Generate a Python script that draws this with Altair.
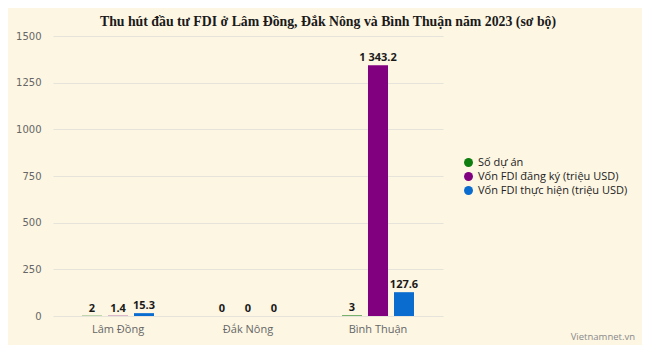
import altair as alt
import pandas as pd

regions = ["Lâm Đồng", "Đắk Nông", "Bình Thuận"]
series = ["Số dự án", "Vốn FDI đăng ký (triệu USD)", "Vốn FDI thực hiện (triệu USD)"]
so_du_an = [2, 0, 3]
von_dang_ky = [1.4, 0, 1343.2]
von_thuc_hien = [15.3, 0, 127.6]
colors = ["#0f7d0f", "#800080", "#0a6ccf"]
y_ticks = [0, 250, 500, 750, 1000, 1250, 1500]


def fmt(v):
    return "{:,}".format(v).replace(",", " ")


rows = []
for s, vals in zip(series, [so_du_an, von_dang_ky, von_thuc_hien]):
    for r, v in zip(regions, vals):
        rows.append({"region": r, "series": s, "value": v, "label": fmt(v)})
df = pd.DataFrame(rows)

x_enc = alt.X("region:N", sort=regions, title=None,
              scale=alt.Scale(paddingInner=0.046, paddingOuter=0.023),
              axis=alt.Axis(labelAngle=0, ticks=False, domain=False, labelPadding=7,
                            labelColor="#666666", labelFontSize=11, labelFont="Open Sans"))
xo_enc = alt.XOffset("series:N", sort=series,
                     scale=alt.Scale(paddingInner=0.23, paddingOuter=1))
y_enc = alt.Y("value:Q", title=None,
              scale=alt.Scale(domain=[0, 1500], nice=False),
              axis=alt.Axis(values=y_ticks, format="d", ticks=False, domain=False,
                            labelPadding=12, gridColor="#e6e3da", labelColor="#666666",
                            labelFontSize=10, labelFont="DejaVu Sans"))

bars = alt.Chart(df).mark_bar().encode(
    x=x_enc, xOffset=xo_enc, y=y_enc,
    color=alt.Color("series:N", sort=series,
                    scale=alt.Scale(domain=series, range=colors),
                    legend=alt.Legend(title=None, orient="none", legendX=410, legendY=121,
                                      symbolType="circle", symbolSize=80,
                                      symbolStrokeWidth=0, labelFontSize=11,
                                      labelFont="Open Sans", labelColor="#222222",
                                      rowPadding=2)),
)

labels = alt.Chart(df).mark_text(baseline="bottom", dy=-2, fontWeight="bold",
                                 fontSize=11, font="Open Sans", color="#1a1a1a").encode(
    x=alt.X("region:N", sort=regions), xOffset=alt.XOffset("series:N", sort=series),
    y="value:Q", text="label:N",
)

wm = alt.Chart(pd.DataFrame({"t": ["Vietnamnet.vn"]})).mark_text(
    align="right", baseline="middle", fontSize=9.5, font="Open Sans", color="#8a8a8a"
).encode(x=alt.value(582), y=alt.value(301), text="t:N")

chart = alt.layer(bars, labels, wm).properties(
    width=390, height=280,
    autosize=alt.AutoSizeParams(type="none"),
    padding={"left": 45, "top": 28, "right": 199, "bottom": 29},
    background="#fdf6e3",
    title=alt.TitleParams(
        "Thu hút đầu tư FDI ở Lâm Đồng, Đắk Nông và Bình Thuận năm 2023 (sơ bộ)",
        font="Liberation Serif", fontSize=13.8, fontWeight="bold", color="#1a1a1a",
        anchor="middle", frame="group", dx=80, dy=2, offset=4),
).configure_view(stroke=None)

chart.save("out.html", embed_options={"renderer": "svg", "actions": False})
